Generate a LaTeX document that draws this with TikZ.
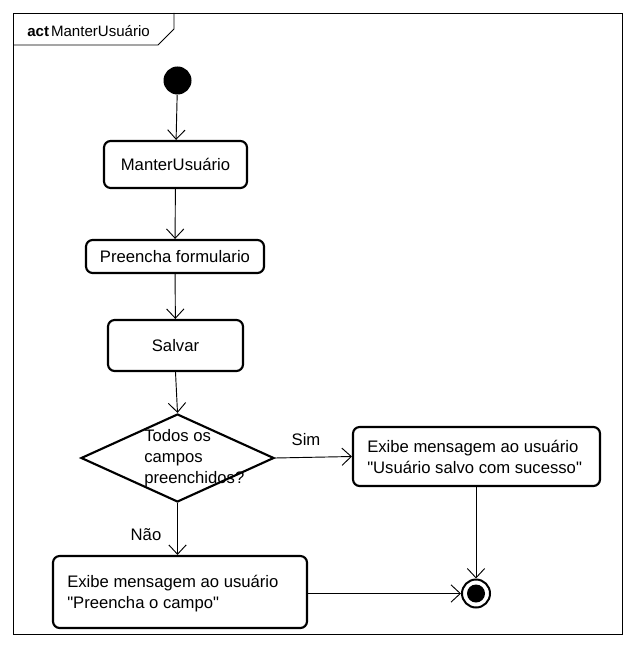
\documentclass[tikz,border=0pt]{standalone}
\usepackage{fontspec}
\setmainfont{Liberation Sans}
\usetikzlibrary{arrows.meta,shapes.geometric}
\begin{document}
\begin{tikzpicture}[x=0.75pt,y=-0.75pt,
  action/.style={draw,line width=1.6pt,rounded corners=5pt,inner sep=0pt,
    font=\fontsize{12.5}{15.75}\selectfont},
  decision/.style={draw,diamond,line width=1.6pt,inner sep=0pt},
  flow/.style={line width=0.7pt,-{Straight Barb[length=7pt,width=13pt,line width=0.7pt]}},
  txt/.style={inner sep=0pt,font=\fontsize{12.5}{15.75}\selectfont},
]
\useasboundingbox (0,0) rectangle (633,648);

% diagram frame with its name tab
\draw[line width=0.7pt] (13,13) rectangle (622,634);
\draw[line width=0.7pt] (13,45) -- (158,45) -- (174,29) -- (174,13);
\node[inner sep=0pt,anchor=west,font=\fontsize{11.3}{13}\selectfont] (title) at (27,31)
  {\textbf{act}\kern1.5pt ManterUsuário};

% start and end points
\node[circle,fill=black,inner sep=0pt,minimum size={28*0.75pt}] (start) at (177.5,80.5) {};
\node[circle,draw,line width=1.5pt,inner sep=0pt,minimum size={28*0.75pt}] (final) at (476,593.5) {};
\node[circle,fill=black,inner sep=0pt,minimum size={18*0.75pt}] (finaldot) at (final) {};

% actions
\node[action,minimum width={143*0.75pt},minimum height={47*0.75pt}] (a1) at (175.5,164.5) {ManterUsuário};
\node[action,minimum width={178*0.75pt},minimum height={33*0.75pt}] (a2) at (175,256.5) {Preencha formulario};
\node[action,minimum width={135*0.75pt},minimum height={51*0.75pt}] (a3) at (175.5,345.5) {Salvar};
\node[decision,minimum width={193*0.75pt},minimum height={88*0.75pt}] (dec) at (177.5,458) {};
\node[txt,anchor=west,align=left] (dectext) at (144,458) {Todos os\\campos\\preenchidos?};
\node[action,minimum width={247*0.75pt},minimum height={59*0.75pt}] (a4) at (476.5,456.5) {};
\node[txt,anchor=west,align=left] (a4text) at (367,456.5)
  {Exibe mensagem ao usuário\\\textquotedbl Usuário salvo com sucesso\textquotedbl};
\node[action,minimum width={254*0.75pt},minimum height={72*0.75pt}] (a5) at (180,592) {};
\node[txt,anchor=west,align=left] (a5text) at (67,593.5)
  {Exibe mensagem ao usuário\\\textquotedbl Preencha o campo\textquotedbl};

% control flow
\draw[flow] (start) -- (a1);
\draw[flow] (a1) -- (a2);
\draw[flow] (a2) -- (a3);
\draw[flow] (a3.south) -- (dec.north);
\draw[flow] (dec.east) -- (a4.west);
\node[txt] (sim) at (306,440) {Sim};
\draw[flow] (dec.south) -- (dec.south |- a5.north);
\node[txt] (nao) at (146,535) {Não};
\draw[flow] (a4.south -| final) -- (final);
\draw[flow] (a5.east |- final) -- (final);
\end{tikzpicture}
\end{document}
